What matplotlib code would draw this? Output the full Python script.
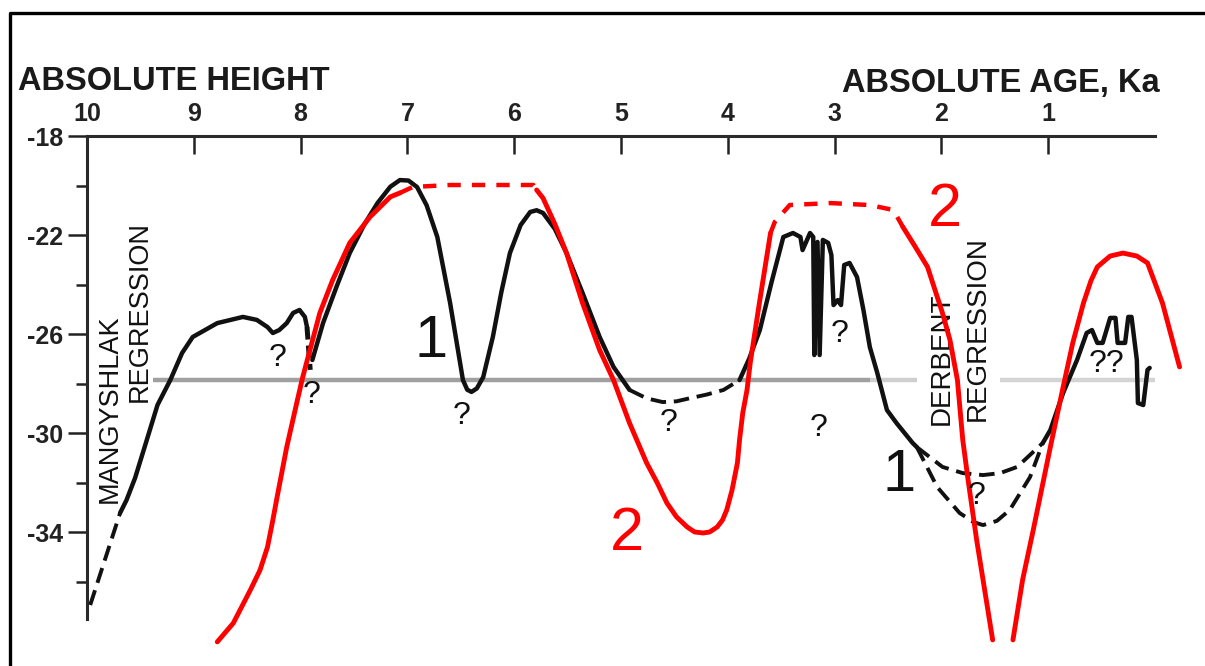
import matplotlib
matplotlib.use('Agg')
import matplotlib.pyplot as plt
from matplotlib.lines import Line2D

plt.rcParams['font.family'] = ['Liberation Sans', 'DejaVu Sans']
plt.rcParams['axes.unicode_minus'] = False

# curve 1 (black), age in ka and absolute height in m
c1_dash_start_age = [9.97, 9.69]
c1_dash_start_h = [-36.95, -33.23]

c1_a_age = [9.69, 9.63, 9.55, 9.44, 9.34, 9.22, 9.11, 9.01, 8.78, 8.54, 8.41,
            8.31, 8.26, 8.20, 8.13, 8.07, 8.01, 7.96, 7.94]
c1_a_h = [-33.23, -32.71, -31.82, -30.28, -28.87, -27.86, -26.77, -26.12, -25.56,
          -25.31, -25.43, -25.72, -25.96, -25.84, -25.56, -25.15, -25.03, -25.31,
          -25.72]

c1_gap_age = [7.94, 7.91]
c1_gap_h = [-25.72, -27.45]

c1_b_age = [7.89, 7.79, 7.66, 7.54, 7.40, 7.28, 7.16, 7.07, 6.99, 6.91, 6.82,
            6.72, 6.60, 6.48, 6.44, 6.40, 6.35, 6.29, 6.20, 6.12, 6.04, 5.94,
            5.85, 5.79, 5.73, 5.62, 5.51, 5.36, 5.20, 5.07, 4.92]
c1_b_h = [-27.05, -25.56, -24.05, -22.73, -21.55, -20.71, -20.05, -19.78, -19.80,
          -20.06, -20.80, -22.08, -24.75, -27.86, -28.25, -28.34, -28.20, -27.74,
          -26.12, -24.30, -22.73, -21.60, -21.07, -21.00, -21.11, -21.75, -22.73,
          -24.34, -26.12, -27.33, -28.26]

c1_c_age = [4.92, 4.76, 4.61, 4.48, 4.35, 4.20, 4.04, 3.89]
c1_c_h = [-28.26, -28.60, -28.75, -28.72, -28.59, -28.45, -28.26, -27.86]

c1_d_age = [3.89, 3.80, 3.70, 3.59, 3.48, 3.39, 3.32, 3.30, 3.23, 3.20, 3.19,
            3.16, 3.14, 3.11, 3.06, 3.03, 3.01, 2.97, 2.94, 2.91, 2.86, 2.79,
            2.73, 2.67, 2.60, 2.51, 2.42, 2.27, 2.23]
c1_d_h = [-27.86, -27.00, -25.84, -23.90, -22.08, -21.92, -22.08, -22.61, -21.92,
          -22.08, -26.85, -22.28, -26.85, -22.20, -22.32, -22.81, -24.83, -24.63,
          -24.83, -23.21, -23.13, -23.70, -25.03, -26.53, -27.58, -29.07, -29.60,
          -30.40, -30.57]

c1_up_age = [2.23, 1.99, 1.80, 1.61, 1.45, 1.29, 1.05]
c1_up_h = [-30.57, -31.37, -31.62, -31.70, -31.62, -31.37, -30.40]

c1_low_age = [2.23, 2.04, 1.83, 1.70, 1.61, 1.48, 1.36, 1.17, 1.05]
c1_low_h = [-30.57, -32.18, -33.23, -33.60, -33.72, -33.55, -33.11, -31.78, -30.40]

c1_e_age = [1.05, 0.98, 0.86, 0.73, 0.64, 0.59, 0.54, 0.49, 0.42, 0.37, 0.35,
            0.28, 0.25, 0.22, 0.17, 0.16, 0.11, 0.07, 0.05]
c1_e_h = [-30.40, -29.88, -28.38, -27.05, -25.96, -25.84, -26.36, -26.36, -25.35,
          -25.35, -26.36, -26.36, -25.31, -25.31, -27.05, -28.79, -28.87, -27.45,
          -27.37]

# curve 2 (red)
c2_a_age = [8.78, 8.63, 8.47, 8.38, 8.31, 8.26, 8.22, 8.13, 8.03, 7.98, 7.82,
            7.70, 7.54, 7.35, 7.16, 7.07]
c2_a_h = [-38.44, -37.68, -36.34, -35.54, -34.61, -33.52, -32.59, -30.57, -28.67,
          -27.74, -25.15, -23.82, -22.32, -21.27, -20.46, -20.30]

c2_top1_age = [7.07, 6.95, 6.60, 6.13, 5.82, 5.79]
c2_top1_h = [-20.30, -20.06, -19.98, -19.98, -19.98, -20.18]

c2_b_age = [5.79, 5.73, 5.62, 5.51, 5.36, 5.20, 5.07, 4.92, 4.76, 4.66, 4.57,
            4.48, 4.38, 4.31, 4.23, 4.17, 4.10, 4.05, 4.01, 3.96, 3.91, 3.89,
            3.86, 3.82, 3.79, 3.70, 3.60]
c2_b_h = [-20.18, -20.51, -21.55, -22.73, -24.75, -26.65, -27.86, -29.60, -31.21,
          -32.02, -32.83, -33.39, -33.80, -34.00, -34.04, -34.00, -33.80, -33.52,
          -33.11, -32.30, -31.21, -30.28, -29.19, -28.26, -27.17, -24.63, -21.92]

c2_top2_age = [3.60, 3.56, 3.42, 3.04, 2.67, 2.45, 2.36]
c2_top2_h = [-21.92, -21.47, -20.79, -20.71, -20.79, -20.99, -21.68]

c2_c_age = [2.36, 2.25, 2.13, 2.06, 1.99, 1.92, 1.85, 1.80, 1.75, 1.67, 1.52]
c2_c_h = [-21.68, -22.44, -23.29, -24.22, -25.15, -26.24, -27.86, -30.28, -31.90,
          -34.32, -38.36]

c2_d_age = [1.33, 1.24, 1.14, 0.98, 0.86, 0.77, 0.67, 0.60, 0.54, 0.42, 0.30,
            0.17, 0.07, -0.07, -0.23]
c2_d_h = [-38.36, -35.94, -33.92, -30.57, -28.14, -26.36, -24.75, -23.85, -23.29,
          -22.85, -22.73, -22.85, -23.13, -24.75, -27.33]

# reference level line
ref_level = -27.85

x_ticks = [10, 9, 8, 7, 6, 5, 4, 3, 2, 1]
y_major = [-18, -22, -26, -30, -34]
y_minor = [-20, -24, -28, -32, -36]

# question marks (age, height)
q_age = [8.22, 7.90, 6.49, 4.55, 3.15, 2.95, 1.67]
q_h = [-26.95, -28.45, -29.3, -29.6, -29.8, -26.0, -32.55]

fig = plt.figure(figsize=(12.05, 6.66), dpi=100)
ax = fig.add_axes([87 / 1205, 0, 1118 / 1205, 530 / 666])
ax.set_xlim(10, 10 - 1118 / 106.8)
ax.set_ylim(-18 - 530 / 24.75, -18)

for s in ['right', 'bottom']:
    ax.spines[s].set_visible(False)
ax.spines['top'].set_bounds(0, 10)
ax.spines['left'].set_bounds(-37.5, -18)
for s in ['top', 'left']:
    ax.spines[s].set_linewidth(2.2)
    ax.spines[s].set_color('#2a2a2a')

ax.xaxis.tick_top()
ax.set_xticks(x_ticks)
ax.set_xticklabels([str(t) for t in x_ticks], fontweight='bold')
ax.tick_params(axis='x', direction='in', length=13, width=1.8, pad=7,
               labelsize=18, colors='#222222')
ax.set_yticks(y_major)
ax.set_yticks(y_minor, minor=True)
ax.set_yticklabels([str(t) for t in y_major], fontweight='bold')
ax.tick_params(axis='y', which='major', direction='out', length=14, width=1.8,
               pad=3, labelsize=18, colors='#222222')
ax.tick_params(axis='y', which='minor', direction='out', length=8, width=1.8,
               colors='#222222')

# reference level, broken where the regression labels sit
ax.plot([9.38, 2.67], [ref_level, ref_level], color='#a0a0a0', lw=3.2,
        solid_capstyle='butt', zorder=1)
ax.plot([2.67, 2.23], [ref_level, ref_level], color='#cfcfcf', lw=3.2,
        solid_capstyle='butt', zorder=1)
ax.plot([1.45, 0.0], [ref_level, ref_level], color='#d4d4d4', lw=3.2,
        solid_capstyle='butt', zorder=1)

blk = '#111111'
red = '#ff0000'
solid_kw = dict(color=blk, lw=3.2, solid_joinstyle='round',
                solid_capstyle='round', zorder=3)
dash_kw = dict(color=blk, lw=2.8, linestyle=(0, (4, 2)), zorder=3)

ax.plot(c1_dash_start_age, c1_dash_start_h, **dash_kw)
ax.plot(c1_a_age, c1_a_h, **solid_kw)
ax.plot(c1_gap_age, c1_gap_h, color=blk, lw=3.6, linestyle=(0, (2.5, 1.2)), zorder=3)
ax.plot(c1_b_age, c1_b_h, **solid_kw)
ax.plot(c1_c_age, c1_c_h, **dash_kw)
ax.plot(c1_d_age, c1_d_h, **solid_kw)
ax.plot(c1_up_age, c1_up_h, **dash_kw)
ax.plot(c1_low_age, c1_low_h, **dash_kw)
ax.plot(c1_e_age, c1_e_h, **solid_kw)

red_kw = dict(color=red, lw=3.5, solid_joinstyle='round',
              solid_capstyle='round', zorder=4)
red_dot = dict(color=red, lw=3.2, linestyle=(0, (3, 2.5)), zorder=4)
ax.plot(c2_a_age, c2_a_h, **red_kw)
ax.plot(c2_top1_age, c2_top1_h, **red_dot)
ax.plot(c2_b_age, c2_b_h, **red_kw)
ax.plot(c2_top2_age, c2_top2_h, **red_dot)
ax.plot(c2_c_age, c2_c_h, **red_kw)
ax.plot(c2_d_age, c2_d_h, **red_kw)

# regression labels
ax.text(9.79, -29.0, 'MANGYSHLAK', rotation=90, fontsize=19.5,
        ha='center', va='center', color=blk, zorder=2)
ax.text(9.51, -25.1, 'REGRESSION', rotation=90, fontsize=19.5,
        ha='center', va='center', color=blk, zorder=2)
ax.text(2.00, -27.0, 'DERBENT', rotation=90, fontsize=20,
        ha='center', va='center', color=blk, zorder=2)
ax.text(1.66, -25.8, 'REGRESSION', rotation=90, fontsize=20,
        ha='center', va='center', color=blk, zorder=2)

# curve numbers
ax.text(6.78, -26.3, '1', fontsize=43, ha='center', va='center', color=blk, zorder=5)
ax.text(2.40, -31.7, '1', fontsize=43, ha='center', va='center', color=blk, zorder=5)
ax.text(4.94, -34.1, '2', fontsize=44, ha='center', va='center', color=red, zorder=5)
ax.text(1.97, -21.0, '2', fontsize=44, ha='center', va='center', color=red, zorder=5)

for a, h in zip(q_age, q_h):
    ax.text(a, h, '?', fontsize=23, ha='center', va='center', color=blk, zorder=5)
ax.text(0.45, -27.2, '??', fontsize=23, ha='center', va='center', color=blk, zorder=5)

fig.text(18 / 1205, 1 - 90 / 666, 'ABSOLUTE HEIGHT', fontsize=23.5,
         fontweight='bold', color='#1a1a1a', ha='left', va='baseline')
fig.text(1160 / 1205, 1 - 92 / 666, 'ABSOLUTE AGE, Ka', fontsize=23.5,
         fontweight='bold', color='#1a1a1a', ha='right', va='baseline')

# outer frame (top and left edges)
fig.add_artist(Line2D([10 / 1205, 10 / 1205, 1.0], [0.0, 1 - 13 / 666, 1 - 13 / 666],
                      transform=fig.transFigure, color='black', lw=2.4))

fig.savefig('out.png', dpi=100)
